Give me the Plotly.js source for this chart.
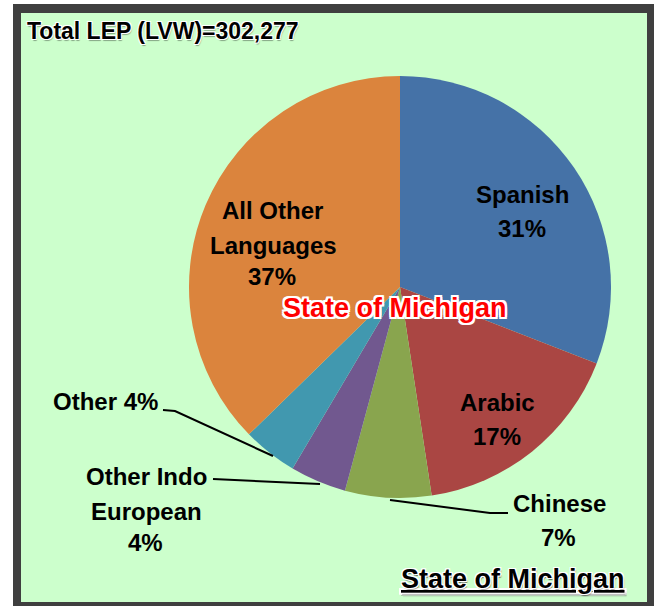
<!DOCTYPE html>
<html>
<head>
<meta charset="utf-8">
<script src="https://cdn.plot.ly/plotly-3.0.1.min.js"></script>
<style>html,body{margin:0;padding:0;background:#fff;}#chart{width:654px;height:606px;}</style>
</head>
<body>
<div id="chart"></div>
<script>
// ---- data ----
var languages = ["Spanish", "Arabic", "Chinese", "Other Indo European", "Other", "All Other Languages"];
var shares = [30.9, 16.7, 6.6, 4.3, 4.2, 37.3];
var shareLabels = ["31%", "17%", "7%", "4%", "4%", "37%"];
var labelLines = [
  ["Spanish", "31%"],
  ["Arabic", "17%"],
  ["Chinese", "7%"],
  ["Other Indo", "European", "4%"],
  ["Other 4%"],
  ["All Other", "Languages", "37%"]
];
var sliceColors = ["#4572A7", "#AA4643", "#89A54E", "#71588F", "#4198AF", "#DB843D"];
var titleText = "Total LEP (LVW)=302,277";
var centerText = "State of Michigan";
var footerText = "State of Michigan";

// ---- layout helpers (pixel -> paper) ----
var W = 654, H = 606;
function X(px) { return px / W; }
function Y(py) { return 1 - py / H; }

// label line centres in pixels
var labelPos = [
  [[522, 194], [522, 229]],
  [[497, 402], [497, 436]],
  [[559, 503], [558, 537]],
  [[146, 476], [146, 511], [145, 542]],
  [[105, 401]],
  [[272, 211], [273, 245], [272, 276]]
];
var leaderPaths = [
  [[390, 500], [490, 513], [508, 513]],
  [[213, 479], [320, 484]],
  [[163, 410], [175, 411], [273, 456]]
];

var FONT = "'Liberation Sans', Arial, sans-serif";
var glow = "-1px -1px 0 #fff, 1px -1px 0 #fff, -1px 1px 0 #fff, 1px 1px 0 #fff, 1px 2px 1px rgba(0,0,0,0.35)";
var redGlow = "-2px -2px 0 #fff, 2px -2px 0 #fff, -2px 2px 0 #fff, 2px 2px 0 #fff, 0 2px 0 #fff, 0 -2px 0 #fff, 2px 0 0 #fff, -2px 0 0 #fff";

var annotations = [];
labelLines.forEach(function (lines, i) {
  lines.forEach(function (t, j) {
    annotations.push({
      xref: "paper", yref: "paper",
      x: X(labelPos[i][j][0]), y: Y(labelPos[i][j][1]),
      xanchor: "center", yanchor: "middle",
      text: t, showarrow: false,
      font: {family: FONT, size: 24, color: "#000", weight: "bold"}
    });
  });
});
annotations.push({
  xref: "paper", yref: "paper", x: X(25), y: Y(31),
  xanchor: "left", yanchor: "middle", text: titleText, showarrow: false,
  font: {family: FONT, size: 23, color: "#000", weight: "bold", shadow: glow}
});
annotations.push({
  xref: "paper", yref: "paper", x: X(395), y: Y(308),
  xanchor: "center", yanchor: "middle", text: centerText, showarrow: false,
  font: {family: FONT, size: 27, color: "#ff0000", weight: "bold", shadow: redGlow}
});
annotations.push({
  xref: "paper", yref: "paper", x: X(513), y: Y(579),
  xanchor: "center", yanchor: "middle", text: footerText, showarrow: false,
  font: {family: FONT, size: 27, color: "#000", weight: "bold", shadow: glow, lineposition: "under"}
});

var shapes = [
  {type: "rect", xref: "paper", yref: "paper", x0: X(13), x1: X(700), y0: Y(4), y1: Y(700),
   fillcolor: "#3f3f3f", line: {width: 0}, layer: "below"},
  {type: "rect", xref: "paper", yref: "paper", x0: X(21), x1: X(647), y0: Y(13), y1: Y(602),
   fillcolor: "#CCFFCC", line: {width: 0}, layer: "below"}
];
leaderPaths.forEach(function (pts) {
  var d = pts.map(function (p, k) { return (k ? "L" : "M") + X(p[0]) + "," + Y(p[1]); }).join(" ");
  shapes.push({type: "path", xref: "paper", yref: "paper", path: d, line: {color: "#000", width: 2}});
});

var trace = {
  type: "pie",
  labels: languages,
  values: shares,
  text: shareLabels,
  sort: false,
  direction: "clockwise",
  rotation: 0,
  textinfo: "none",
  hoverinfo: "label+text",
  marker: {colors: sliceColors, line: {width: 0}},
  domain: {x: [X(189), X(611)], y: [Y(498), Y(76)]},
  showlegend: false
};

var layout = {
  width: W, height: H,
  margin: {l: 0, r: 0, t: 0, b: 0},
  paper_bgcolor: "#ffffff",
  showlegend: false,
  annotations: annotations,
  shapes: shapes
};

Plotly.newPlot("chart", [trace], layout, {staticPlot: true, displayModeBar: false});
</script>
</body>
</html>
